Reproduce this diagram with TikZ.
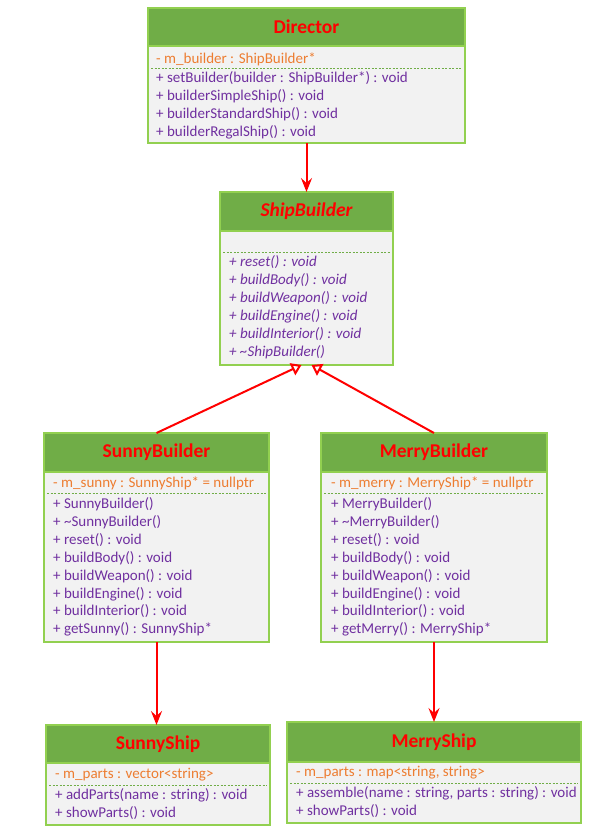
\documentclass[tikz,border=0pt]{standalone}
\usepackage{fontspec}
\setmainfont{Carlito}
\usetikzlibrary{arrows.meta,calc}
\definecolor{hdr}{HTML}{70AD47}
\definecolor{brd}{HTML}{92D050}
\definecolor{bodyc}{HTML}{F2F2F2}
\definecolor{attrc}{HTML}{ED7D31}
\definecolor{methc}{HTML}{7030A0}
\definecolor{ttlc}{HTML}{FF0000}
\tikzset{
  classbox/.style={draw=brd, line width=2pt, fill=bodyc, anchor=north west, inner sep=0pt, outer sep=0pt},
  hdrbox/.style={draw=brd, line width=2pt, fill=hdr, anchor=north west, inner sep=0pt, outer sep=0pt},
  titletxt/.style={text=ttlc, inner sep=0pt, font=\fontsize{19.5}{19.5}\selectfont\bfseries},
  attrtxt/.style={text=attrc, anchor=west, inner sep=0pt, font=\fontsize{15}{15}\selectfont},
  methtxt/.style={text=methc, anchor=west, inner sep=0pt, font=\fontsize{15}{15}\selectfont},
  absmeth/.style={methtxt, font=\fontsize{15}{15}\selectfont\itshape},
  sepline/.style={draw=hdr, dashed, dash pattern=on 2pt off 1.5pt, line width=1pt},
  assoc/.style={draw=red, line width=2pt, -{Stealth[length=14pt, width=11pt, inset=5pt]}},
  gen/.style={draw=red, line width=2pt, -{Triangle[open, length=10pt, width=13pt, fill=white]}},
}
\begin{document}
\begin{tikzpicture}[x=1pt, y=-1pt]
\useasboundingbox (0,0) rectangle (602,830);

% Director
\node[classbox, minimum width=317pt, minimum height=135pt] (director) at (148,8) {};
\node[hdrbox, minimum width=317pt, minimum height=38pt] (directorH) at (148,8) {};
\node[titletxt] (directorT) at (directorH.center) {Director};
\node[attrtxt] (directorA) at (156,59) {- m\_builder : ShipBuilder*};
\draw[sepline] (151,68) -- (462,68);
\node[methtxt] (directorM1) at (156,78) {+ setBuilder(builder : ShipBuilder*) : void};
\node[methtxt] (directorM2) at (156,96) {+ builderSimpleShip() : void};
\node[methtxt] (directorM3) at (156,114) {+ builderStandardShip() : void};
\node[methtxt] (directorM4) at (156,132) {+ builderRegalShip() : void};

% ShipBuilder
\node[classbox, minimum width=173pt, minimum height=173pt] (shipb) at (220,192) {};
\node[hdrbox, minimum width=173pt, minimum height=39pt] (shipbH) at (220,192) {};
\node[titletxt, font=\fontsize{19.5}{19.5}\selectfont\bfseries\itshape] (shipbT) at (shipbH.center) {ShipBuilder};
\draw[sepline] (223,252) -- (390,252);
\node[absmeth] (shipbM1) at (229,262) {+ reset() : void};
\node[absmeth] (shipbM2) at (229,280) {+ buildBody() : void};
\node[absmeth] (shipbM3) at (229,298) {+ buildWeapon() : void};
\node[absmeth] (shipbM4) at (229,316) {+ buildEngine() : void};
\node[absmeth] (shipbM5) at (229,334) {+ buildInterior() : void};
\node[absmeth] (shipbM6) at (229,352) {+ \textasciitilde ShipBuilder()};

% SunnyBuilder
\node[classbox, minimum width=225pt, minimum height=209pt] (sunnyb) at (44,433) {};
\node[hdrbox, minimum width=225pt, minimum height=39pt] (sunnybH) at (44,433) {};
\node[titletxt] (sunnybT) at (sunnybH.center) {SunnyBuilder};
\node[attrtxt] (sunnybA) at (53,483) {- m\_sunny : SunnyShip* = nullptr};
\draw[sepline] (47,493) -- (266,493);
\node[methtxt] (sunnybM1) at (53,504) {+ SunnyBuilder()};
\node[methtxt] (sunnybM2) at (53,522) {+ \textasciitilde SunnyBuilder()};
\node[methtxt] (sunnybM3) at (53,540) {+ reset() : void};
\node[methtxt] (sunnybM4) at (53,558) {+ buildBody() : void};
\node[methtxt] (sunnybM5) at (53,576) {+ buildWeapon() : void};
\node[methtxt] (sunnybM6) at (53,594) {+ buildEngine() : void};
\node[methtxt] (sunnybM7) at (53,611) {+ buildInterior() : void};
\node[methtxt] (sunnybM8) at (53,629) {+ getSunny() : SunnyShip*};

% MerryBuilder
\node[classbox, minimum width=226pt, minimum height=209pt] (merryb) at (321,433) {};
\node[hdrbox, minimum width=226pt, minimum height=39pt] (merrybH) at (321,433) {};
\node[titletxt] (merrybT) at (merrybH.center) {MerryBuilder};
\node[attrtxt] (merrybA) at (331,483) {- m\_merry : MerryShip* = nullptr};
\draw[sepline] (324,493) -- (544,493);
\node[methtxt] (merrybM1) at (331,504) {+ MerryBuilder()};
\node[methtxt] (merrybM2) at (331,522) {+ \textasciitilde MerryBuilder()};
\node[methtxt] (merrybM3) at (331,540) {+ reset() : void};
\node[methtxt] (merrybM4) at (331,558) {+ buildBody() : void};
\node[methtxt] (merrybM5) at (331,576) {+ buildWeapon() : void};
\node[methtxt] (merrybM6) at (331,594) {+ buildEngine() : void};
\node[methtxt] (merrybM7) at (331,611) {+ buildInterior() : void};
\node[methtxt] (merrybM8) at (331,629) {+ getMerry() : MerryShip*};

% SunnyShip
\node[classbox, minimum width=224pt, minimum height=100pt] (sunnys) at (46,725) {};
\node[hdrbox, minimum width=224pt, minimum height=38pt] (sunnysH) at (46,725) {};
\node[titletxt] (sunnysT) at (sunnysH.center) {SunnyShip};
\node[attrtxt] (sunnysA) at (55,775) {- m\_parts : vector<string>};
\draw[sepline] (49,785) -- (267,785);
\node[methtxt] (sunnysM1) at (55,795) {+ addParts(name : string) : void};
\node[methtxt] (sunnysM2) at (55,813) {+ showParts() : void};

% MerryShip
\node[classbox, minimum width=294pt, minimum height=101pt] (merrys) at (287,722) {};
\node[hdrbox, minimum width=294pt, minimum height=40pt] (merrysH) at (287,722) {};
\node[titletxt] (merrysT) at (merrysH.center) {MerryShip};
\node[attrtxt] (merrysA) at (296,773) {- m\_parts : map<string, string>};
\draw[sepline] (290,783) -- (578,783);
\node[methtxt] (merrysM1) at (296,793) {+ assemble(name : string, parts : string) : void};
\node[methtxt] (merrysM2) at (296,811) {+ showParts() : void};

% connectors
\draw[assoc] (director.south) -- (shipbH.north);
\coordinate (genL) at ($(shipb.south)+(-5,0)$);
\coordinate (genR) at ($(shipb.south)+(5,0)$);
\draw[gen] (sunnybH.north) -- (genL);
\draw[gen] (merrybH.north) -- (genR);
\draw[assoc] (sunnyb.south) -- (sunnyb.south |- sunnysH.north);
\draw[assoc] (merryb.south) -- (merryb.south |- merrysH.north);
\end{tikzpicture}
\end{document}
